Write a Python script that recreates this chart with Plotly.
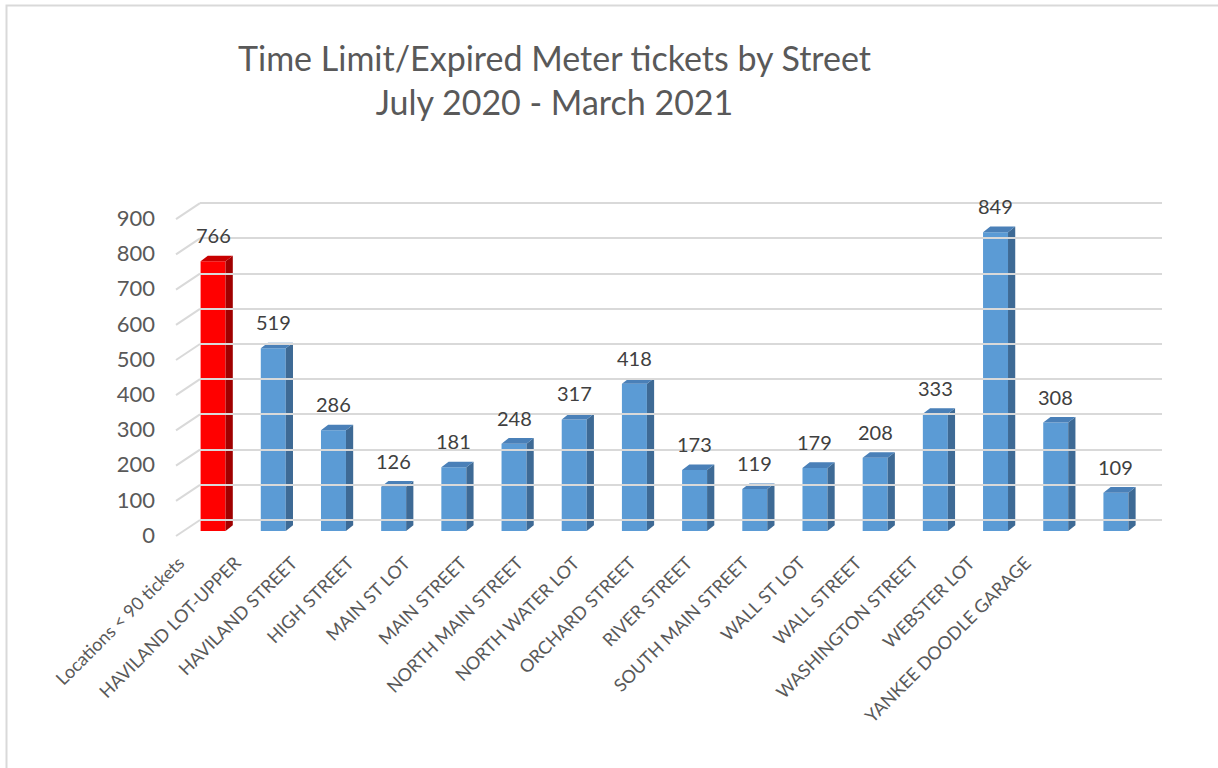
import plotly.graph_objects as go

categories = ["Locations < 90 tickets", "HAVILAND LOT-UPPER", "HAVILAND STREET", "HIGH STREET",
              "MAIN ST LOT", "MAIN STREET", "NORTH MAIN STREET", "NORTH WATER LOT",
              "ORCHARD STREET", "RIVER STREET", "SOUTH MAIN STREET", "WALL ST LOT",
              "WALL STREET", "WASHINGTON STREET", "WEBSTER LOT", "YANKEE DOODLE GARAGE"]
tickets = [766, 519, 286, 126, 181, 248, 317, 418, 173, 119, 179, 208, 333, 849, 308, 109]
highlight = [True] + [False] * 15
y_ticks = [0, 100, 200, 300, 400, 500, 600, 700, 800, 900]

title_lines = ["Time Limit/Expired Meter tickets by Street", "July 2020 - March 2021"]

FONT = "Lato"
TXT = "#595959"
FRONT_BLUE, SIDE_BLUE, TOP_BLUE = "#5B9BD5", "#3E6A95", "#4A80B8"
FRONT_RED, SIDE_RED, TOP_RED = "#FF0000", "#A00000", "#C80000"

W, H = 1218, 768
L, R, T, B = 100, 30, 170, 208
PW, PH = W - L - R, H - T - B
K = 0.352  # pixels per ticket unit


def px_x(p):
    return (p - L) / PW


def px_y(p):
    return (T + PH - p) / PH


def yrange(zero_px):
    return [-(T + PH - zero_px) / K, (zero_px - T) / K]


BAR_W = 0.415
DEPTH_X = 0.12
DEPTH_Y = 16

fig = go.Figure()

fig.add_trace(go.Bar(
    x=list(range(len(categories))), y=tickets, width=BAR_W,
    marker=dict(color=[FRONT_RED if h else FRONT_BLUE for h in highlight], line=dict(width=0)),
    hoverinfo="skip", showlegend=False, xaxis="x", yaxis="y"))


def faces(want_red):
    sx, sy, tx, ty = [], [], [], []
    for i, (v, h) in enumerate(zip(tickets, highlight)):
        if h != want_red:
            continue
        xr = i + BAR_W / 2
        xl = i - BAR_W / 2
        sx += [xr, xr + DEPTH_X, xr + DEPTH_X, xr, xr, None]
        sy += [0, DEPTH_Y, v + DEPTH_Y, v, 0, None]
        tx += [xl, xr, xr + DEPTH_X, xl + DEPTH_X, xl, None]
        ty += [v, v, v + DEPTH_Y, v + DEPTH_Y, v, None]
    return sx, sy, tx, ty


for red in (False, True):
    sx, sy, tx, ty = faces(red)
    fig.add_trace(go.Scatter(x=sx, y=sy, fill="toself", mode="lines",
                             fillcolor=SIDE_RED if red else SIDE_BLUE,
                             line=dict(width=0), hoverinfo="skip", showlegend=False,
                             xaxis="x", yaxis="y"))
    fig.add_trace(go.Scatter(x=tx, y=ty, fill="toself", mode="lines",
                             fillcolor=TOP_RED if red else TOP_BLUE,
                             line=dict(width=0), hoverinfo="skip", showlegend=False,
                             xaxis="x", yaxis="y"))

# dummy traces to carry the label axis and grid axis
fig.add_trace(go.Scatter(x=[0], y=[0], mode="markers", marker=dict(opacity=0),
                         hoverinfo="skip", showlegend=False, xaxis="x", yaxis="y2"))
fig.add_trace(go.Scatter(x=[0], y=[0], mode="markers", marker=dict(opacity=0),
                         hoverinfo="skip", showlegend=False, xaxis="x3", yaxis="y3"))
fig.add_trace(go.Scatter(x=categories, y=[0] * len(categories), mode="markers",
                         marker=dict(opacity=0), hoverinfo="skip", showlegend=False,
                         xaxis="x4", yaxis="y"))

for i, v in enumerate(tickets):
    fig.add_annotation(x=i, y=v, xref="x", yref="y", text=str(v), showarrow=False,
                       yanchor="bottom", yshift=12, font=dict(family=FONT, size=20, color="#404040"))

bar_domain = [px_x(183), px_x(1146)]
fig.update_layout(
    width=W, height=H,
    margin=dict(l=L, r=R, t=T, b=B, autoexpand=False),
    paper_bgcolor="white", plot_bgcolor="rgba(0,0,0,0)",
    font=dict(family=FONT, color=TXT),
    title=dict(text="<br>".join(title_lines), x=554.5 / W, xanchor="center", y=1 - 71 / H,
               yanchor="middle", font=dict(family=FONT, size=34, color=TXT),
               automargin=False),
    xaxis=dict(domain=bar_domain, range=[-0.5, len(categories) - 0.5], visible=False,
               automargin=False),
    yaxis=dict(domain=[0, 1], range=yrange(531), visible=False, automargin=False),
    yaxis2=dict(domain=[0, 1], range=yrange(535), overlaying="y", anchor="free",
                position=px_x(183), side="left", tickvals=y_ticks, showgrid=False,
                zeroline=False, showline=False, ticklabelstandoff=28, automargin=False,
                tickfont=dict(family=FONT, size=22, color=TXT)),
    xaxis3=dict(domain=[px_x(200), px_x(1162)], range=[0, 1], visible=False, anchor="y3",
                automargin=False),
    yaxis3=dict(domain=[0, 1], range=yrange(520), anchor="x3", tickvals=y_ticks,
                showticklabels=False, showgrid=True, gridcolor="#D9D9D9", gridwidth=2,
                zeroline=False, showline=False, automargin=False),
    xaxis4=dict(domain=[px_x(151), px_x(1054)],
                range=[-0.5, len(categories) - 0.5], anchor="free", position=px_y(548),
                type="category",
                tickangle=-45, showgrid=False, showline=False, zeroline=False,
                automargin=False,
                tickfont=dict(family=FONT, size=18, color=TXT)),
)

# small perspective lines at the left wall
for v in y_ticks:
    fig.add_shape(type="line", xref="paper", yref="y3",
                  x0=px_x(176), y0=v - 16 / K, x1=px_x(200), y1=v,
                  line=dict(color="#D9D9D9", width=2), layer="below")

# chart border
fig.add_shape(type="rect", xref="paper", yref="paper",
              x0=px_x(6.5), x1=px_x(1240), y0=px_y(5.5), y1=px_y(790),
              line=dict(color="#D9D9D9", width=2), layer="below")

fig.write_html("out.html", config={"displayModeBar": False},
               post_script="document.body.style.margin='0';document.body.style.overflow='hidden';")
